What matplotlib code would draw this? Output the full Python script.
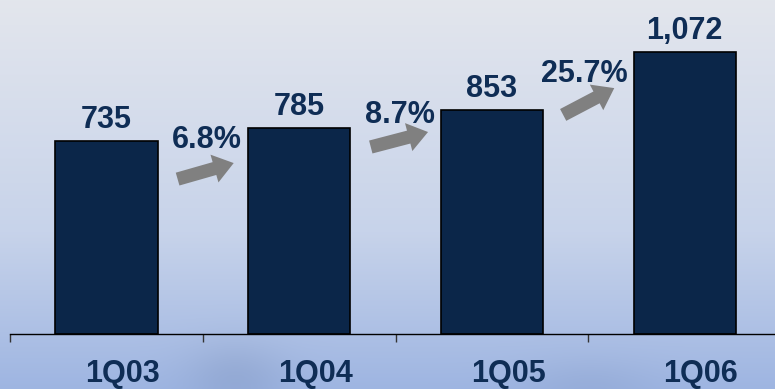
import matplotlib.pyplot as plt
import numpy as np

quarters = ['1Q03', '1Q04', '1Q05', '1Q06']
values = [735, 785, 853, 1072]
growth = ['6.8%', '8.7%', '25.7%']

navy = '#0b2649'
text_navy = '#0f2d55'

# arrow (tail, tip) and growth-label spots, in data units
arrow_pos = [((0.369, 589), (0.660, 650)),
             ((1.371, 711), (1.668, 768)),
             ((2.369, 833), (2.634, 935))]
growth_pos = [(0.519, 707), (1.522, 802), (2.478, 958)]

plt.rcParams['font.family'] = ['Liberation Sans', 'DejaVu Sans']

fig = plt.figure(figsize=(7.75, 3.89), dpi=100)

# background: pale at the top, light blue at the bottom, a few soft darker patches
bg = fig.add_axes([0, 0, 1, 1], zorder=0)
yy, xx = np.mgrid[0:389, 0:775]
t = yy / 388.0
top = np.array([0.890, 0.902, 0.929])
mid = np.array([0.780, 0.827, 0.918])
bot = np.array([0.620, 0.710, 0.885])
w1 = np.clip(t / 0.6, 0, 1)[..., None]
w2 = np.clip((t - 0.6) / 0.4, 0, 1)[..., None]
img = top * (1 - w1) + mid * w1
img = img * (1 - w2) + bot * w2
for cx, cy, sx, sy, a in [(235, 375, 35, 25, 0.05), (590, 385, 45, 20, 0.03)]:
    blob = np.exp(-((xx - cx) ** 2 / (2 * sx ** 2) + (yy - cy) ** 2 / (2 * sy ** 2)))
    img = img - a * blob[..., None]
bg.imshow(np.clip(img, 0, 1), aspect='auto', extent=[0, 1, 0, 1], origin='upper')
bg.set_axis_off()

ax = fig.add_axes([0.013, 0.1414, 0.995, 0.8586], zorder=1)
ax.patch.set_alpha(0)
x = np.arange(len(quarters))
ax.bar(x, values, width=0.53, color=navy, edgecolor='black', linewidth=1.2)
ax.set_xlim(-0.5, 3.5)
ax.set_ylim(0, 1270)

for xi, v in zip(x, values):
    ax.text(xi, v + 48, f'{v:,}', ha='center', va='baseline',
            fontsize=22, fontweight='bold', color=text_navy)

# growth arrows between consecutive bars
for g, (tail, tip), (gx, gy) in zip(growth, arrow_pos, growth_pos):
    ax.annotate('', xy=tip, xytext=tail,
                arrowprops=dict(arrowstyle='simple,head_length=0.9,head_width=1.3,tail_width=0.6',
                                color='#808080', lw=0, mutation_scale=16,
                                shrinkA=0, shrinkB=0))
    ax.text(gx, gy, g, ha='center', va='baseline',
            fontsize=22, fontweight='bold', color=text_navy)

for xi, q in zip(x, quarters):
    ax.annotate(q, xy=(xi + 0.083, 0), xycoords=('data', 'axes fraction'),
                xytext=(0, -34.5), textcoords='offset points',
                ha='center', va='baseline', fontsize=22, fontweight='bold',
                color=text_navy, annotation_clip=False)

ax.spines[['top', 'right', 'left']].set_visible(False)
ax.spines['bottom'].set_color('black')
ax.spines['bottom'].set_linewidth(1)
ax.set_yticks([])
ax.set_xticks(np.arange(-0.5, 3.6, 1.0))
ax.set_xticklabels([])
ax.tick_params(axis='x', length=6, width=1, color='#333333', direction='out')

fig.savefig('out.png', dpi=100)
